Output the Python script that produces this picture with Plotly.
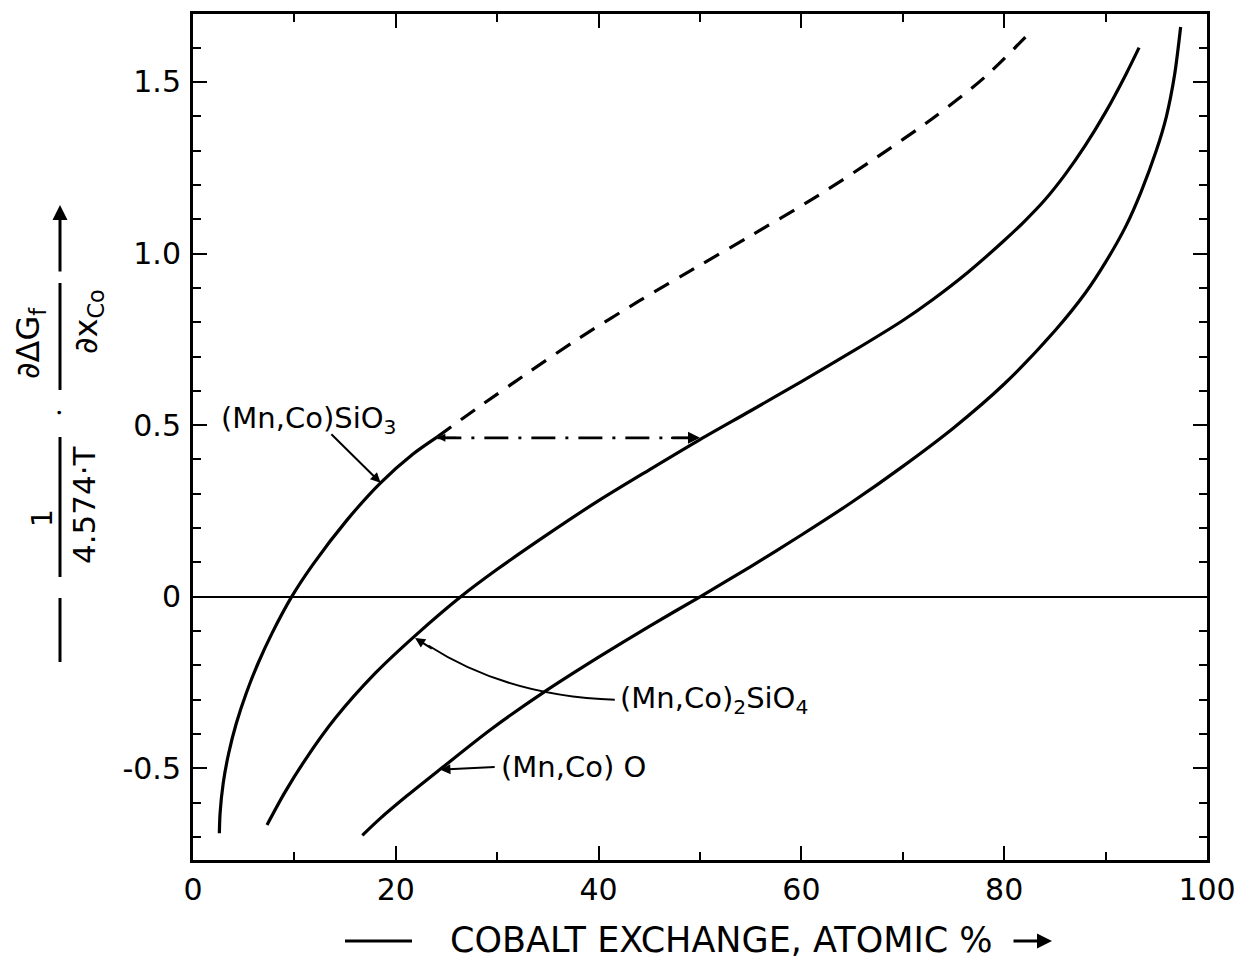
import plotly.graph_objects as go

# ---------------- data ----------------
sio3_x = [2.60, 2.67, 2.98, 3.52, 4.28, 5.25, 6.43, 7.80, 9.75, 11.8, 15.2, 18.5, 21.7, 24.1]
sio3_y = [-0.689, -0.631, -0.543, -0.456, -0.368, -0.281, -0.193, -0.106, 0.001, 0.093, 0.224, 0.332, 0.416,
          0.466]

sio3_ext_x = [24.1, 28, 33, 38, 44, 50, 55, 61, 67, 73, 78, 82.4]
sio3_ext_y = [0.466, 0.549, 0.652, 0.752, 0.862, 0.966, 1.052, 1.157, 1.272, 1.395, 1.512, 1.64]

sio4_x = [7.3, 9, 11, 14, 18, 22, 26.4, 30, 35, 40, 45, 50, 55, 60, 65, 70, 73, 76.4, 80, 82, 84, 86, 88, 90,
          92, 93.3]
sio4_y = [-0.665, -0.573, -0.478, -0.355, -0.222, -0.111, 0.0, 0.080, 0.1825, 0.28, 0.37, 0.458, 0.542,
          0.627, 0.714, 0.805, 0.867, 0.945, 1.038, 1.094, 1.156, 1.23, 1.315, 1.412, 1.522, 1.60]

oxide_x = [16.7, 18.5, 21.1, 24.4, 29.3, 34.5, 40, 45, 50, 55, 60, 65, 70, 75, 80, 85, 88, 90, 92, 93.5, 95, 96,
           96.8, 97.4]
oxide_y = [-0.695, -0.645, -0.580, -0.502, -0.388, -0.280, -0.176, -0.086, 0.0, 0.088, 0.180, 0.276, 0.380,
           0.492, 0.620, 0.775, 0.885, 0.975, 1.08, 1.18, 1.30, 1.40, 1.52, 1.66]

tie_x = [24.1, 50.0]
tie_y = [0.463, 0.463]

x_tickvals = [0, 20, 40, 60, 80, 100]
x_ticktext = ["0", "20", "40", "60", "80", "100"]
y_tickvals = [-0.5, 0, 0.5, 1.0, 1.5]
y_ticktext = ["-0.5", "0", "0.5", "1.0", "1.5"]

# ---------------- layout geometry ----------------
W, H = 1238, 959
L, R, T, B = 193, 31, 14, 99
PW, PH = W - L - R, H - T - B


def px(xp):
    return (xp - L) / PW


def py(yp):
    return (H - B - yp) / PH


FONT = "DejaVu Sans"
LW = 3.2

fig = go.Figure()

fig.add_trace(go.Scatter(x=sio3_x, y=sio3_y, mode="lines",
                         line=dict(color="black", width=LW, shape="spline", smoothing=0.8), showlegend=False))
fig.add_trace(go.Scatter(x=sio3_ext_x, y=sio3_ext_y, mode="lines",
                         line=dict(color="black", width=LW, dash="17px,12px", shape="spline", smoothing=0.8),
                         showlegend=False))
fig.add_trace(go.Scatter(x=sio4_x, y=sio4_y, mode="lines",
                         line=dict(color="black", width=LW, shape="spline", smoothing=0.8), showlegend=False))
fig.add_trace(go.Scatter(x=oxide_x, y=oxide_y, mode="lines",
                         line=dict(color="black", width=LW, shape="spline", smoothing=0.8), showlegend=False))
fig.add_trace(go.Scatter(x=tie_x, y=tie_y, mode="lines",
                         line=dict(color="black", width=2.6, dash="24px,10px,3px,10px"), showlegend=False))

ann = []
shapes = []

# tie-line arrowheads
ann.append(dict(x=tie_x[1], y=tie_y[1], ax=tie_x[1] - 3, ay=tie_y[1], xref="x", yref="y", axref="x", ayref="y",
                showarrow=True, arrowhead=2, arrowsize=1, arrowwidth=2.4, arrowcolor="black", text=""))
ann.append(dict(x=tie_x[0], y=tie_y[0], ax=tie_x[0] + 2, ay=tie_y[0], xref="x", yref="y", axref="x", ayref="y",
                showarrow=True, arrowhead=2, arrowsize=0.8, arrowwidth=2, arrowcolor="black", text=""))

lab_font = dict(family=FONT, size=29, color="black")

# (Mn,Co)SiO3 label + arrow
ann.append(dict(x=11.4, y=0.516, xref="x", yref="y", text="(Mn,Co)SiO<sub>3</sub>", showarrow=False,
                xanchor="center", yanchor="middle", font=lab_font))
ann.append(dict(x=18.5, y=0.332, ax=13.5, ay=0.478, xref="x", yref="y", axref="x", ayref="y",
                showarrow=True, arrowhead=2, arrowsize=1, arrowwidth=2, arrowcolor="black", text=""))

# (Mn,Co)2SiO4 label + curved leader
ann.append(dict(x=41.9, y=-0.30, xref="x", yref="y", text="(Mn,Co)<sub>2</sub>SiO<sub>4</sub>", showarrow=False,
                xanchor="left", yanchor="middle", font=lab_font))
shapes.append(dict(type="path", xref="x", yref="y", path="M 41.6,-0.300 Q 31,-0.29 23.2,-0.142",
                   line=dict(color="black", width=2)))
ann.append(dict(x=21.9, y=-0.12, ax=23.7, ay=-0.154, xref="x", yref="y", axref="x", ayref="y",
                showarrow=True, arrowhead=2, arrowsize=1, arrowwidth=2, arrowcolor="black", text=""))

# (Mn,Co)O label + arrow
ann.append(dict(x=30.2, y=-0.496, xref="x", yref="y", text="(Mn,Co) O", showarrow=False, xanchor="left",
                yanchor="middle", font=lab_font))
ann.append(dict(x=24.4, y=-0.504, ax=29.9, ay=-0.496, xref="x", yref="y", axref="x", ayref="y",
                showarrow=True, arrowhead=2, arrowsize=1, arrowwidth=2, arrowcolor="black", text=""))

# ---------------- y-axis title (composite, rotated) ----------------
tfont = dict(family=FONT, size=32, color="black")


def ptext(xp, yp, text, font, angle=-90):
    ann.append(dict(x=px(xp), y=py(yp), xref="paper", yref="paper", text=text, textangle=angle,
                    showarrow=False, xanchor="center", yanchor="middle", font=font))


def pline(x0, y0, x1, y1, w=3):
    shapes.append(dict(type="line", xref="paper", yref="paper", x0=px(x0), x1=px(x1), y0=py(y0), y1=py(y1),
                       line=dict(color="black", width=w)))


pline(60, 598, 60, 662)
ptext(42, 518, "1", dict(family=FONT, size=28, color="black"))
pline(60, 437, 60, 577)
ptext(84, 505, "4.574·T", dict(family=FONT, size=31, color="black"))
ptext(60, 413, "•", dict(family=FONT, size=12, color="black"))
pline(60, 283, 60, 390)
ptext(30, 343, "∂ΔG<sub>f</sub>", tfont)
ptext(88, 322, "∂x<sub>Co</sub>", tfont)
ann.append(dict(x=px(60), y=py(205), xref="paper", yref="paper", ax=0, ay=68, showarrow=True, arrowhead=2,
                arrowsize=1, arrowwidth=3, arrowcolor="black", text=""))

# ---------------- x-axis title ----------------
pline(345, 941, 412, 941)
ptext(721, 940, "COBALT EXCHANGE, ATOMIC %", dict(family=FONT, size=35, color="black"), angle=0)
ann.append(dict(x=px(1052), y=py(941), xref="paper", yref="paper", ax=-40, ay=0, showarrow=True, arrowhead=2,
                arrowsize=1, arrowwidth=3, arrowcolor="black", text=""))

fig.update_layout(
    width=W, height=H,
    margin=dict(l=L, r=R, t=T, b=B, autoexpand=False),
    paper_bgcolor="white", plot_bgcolor="white",
    annotations=ann, shapes=shapes,
    font=dict(family=FONT, color="black"),
    xaxis=dict(range=[0, 100], tickvals=x_tickvals, ticktext=x_ticktext, ticks="inside", ticklen=14, tickwidth=2,
               tickcolor="black", showline=True, linewidth=3, linecolor="black", mirror="allticks",
               showgrid=False, zeroline=False, tickfont=dict(family=FONT, size=30, color="black"),
               ticklabelstandoff=1, automargin=False,
               minor=dict(ticks="inside", dtick=10, ticklen=8, tickwidth=2, tickcolor="black", showgrid=False)),
    yaxis=dict(range=[-0.767, 1.698], tickvals=y_tickvals, ticktext=y_ticktext, ticks="inside", ticklen=14,
               tickwidth=2, tickcolor="black", showline=True, linewidth=3, linecolor="black", mirror="allticks",
               showgrid=False, zeroline=True, zerolinecolor="black", zerolinewidth=2,
               tickfont=dict(family=FONT, size=30, color="black"), ticklabelstandoff=3, automargin=False,
               minor=dict(ticks="inside", dtick=0.1, tick0=0, ticklen=8, tickwidth=2, tickcolor="black",
                          showgrid=False)),
)

fig.write_html("out.html", config={"displayModeBar": False},
               post_script="document.body.style.margin='0px';document.body.style.padding='0px';")
